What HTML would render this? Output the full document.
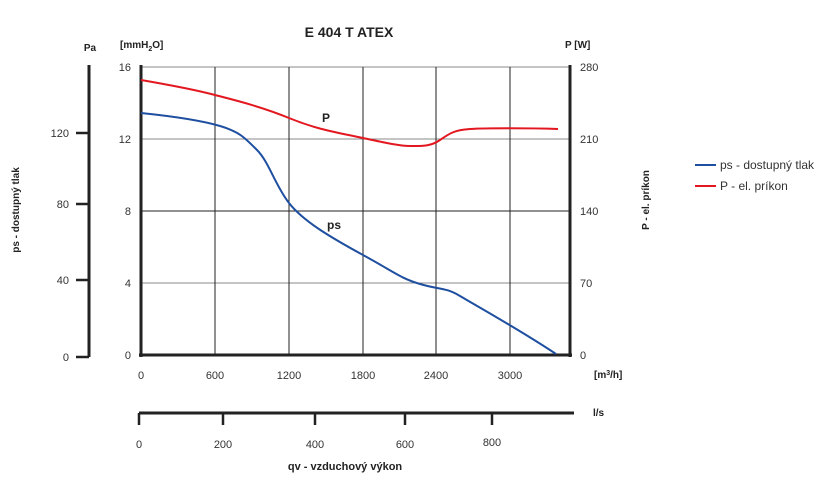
<!DOCTYPE html>
<html><head><style>body{margin:0;background:#fff}svg{display:block;font-family:"Liberation Sans",sans-serif}</style></head><body>
<svg width="825" height="481" viewBox="0 0 825 481">
<text x="349" y="37" text-anchor="middle" font-size="14" font-weight="bold" fill="#222">E 404 T ATEX</text>
<g stroke="#888" stroke-width="1">
<line x1="141" y1="67" x2="570" y2="67"/><line x1="141" y1="139" x2="570" y2="139"/><line x1="141" y1="211" x2="570" y2="211" stroke="#222"/><line x1="141" y1="283" x2="570" y2="283"/>
</g>
<g stroke="#222" stroke-width="1">
<line x1="215" y1="67" x2="215" y2="355"/><line x1="289" y1="67" x2="289" y2="355"/><line x1="363" y1="67" x2="363" y2="355"/><line x1="436" y1="67" x2="436" y2="355"/><line x1="510" y1="67" x2="510" y2="355"/>
</g>
<g stroke="#222" stroke-width="3" fill="none">
<line x1="141" y1="65" x2="141" y2="357"/><line x1="570" y1="65" x2="570" y2="357"/><line x1="139" y1="355" x2="572" y2="355"/>
<line x1="89" y1="65" x2="89" y2="357"/>
<line x1="139" y1="413" x2="574" y2="413"/>
</g>
<g stroke="#222" stroke-width="2.5">
<line x1="76" y1="133" x2="89" y2="133"/><line x1="76" y1="204" x2="89" y2="204"/><line x1="76" y1="280" x2="89" y2="280"/><line x1="76" y1="357" x2="89" y2="357"/>
<line x1="139" y1="413" x2="139" y2="425"/><line x1="223" y1="413" x2="223" y2="425"/><line x1="315" y1="413" x2="315" y2="425"/><line x1="405" y1="413" x2="405" y2="425"/><line x1="492" y1="413" x2="492" y2="425"/>
</g>
<g font-size="11" fill="#333">
<text x="69" y="137" text-anchor="end">120</text><text x="69" y="208" text-anchor="end">80</text><text x="69" y="284" text-anchor="end">40</text><text x="69" y="361" text-anchor="end">0</text>
<text x="131" y="71" text-anchor="end">16</text><text x="131" y="143" text-anchor="end">12</text><text x="131" y="215" text-anchor="end">8</text><text x="131" y="287" text-anchor="end">4</text><text x="131" y="359" text-anchor="end">0</text>
<text x="580" y="71">280</text><text x="580" y="143">210</text><text x="580" y="215">140</text><text x="580" y="287">70</text><text x="580" y="359">0</text>
<text x="141" y="379" text-anchor="middle">0</text><text x="215" y="379" text-anchor="middle">600</text><text x="289" y="379" text-anchor="middle">1200</text><text x="363" y="379" text-anchor="middle">1800</text><text x="436" y="379" text-anchor="middle">2400</text><text x="510" y="379" text-anchor="middle">3000</text>
<text x="139" y="448" text-anchor="middle">0</text><text x="223" y="448" text-anchor="middle">200</text><text x="315" y="448" text-anchor="middle">400</text><text x="405" y="448" text-anchor="middle">600</text><text x="492" y="446" text-anchor="middle">800</text>
</g>
<g font-size="10" font-weight="bold" fill="#222">
<text x="90" y="51" text-anchor="middle">Pa</text>
<text x="120" y="48">[mmH<tspan font-size="7" dy="3">2</tspan><tspan dy="-3">O]</tspan></text>
<text x="565" y="48">P [W]</text>
<text x="594" y="378">[m<tspan font-size="7" dy="-3">3</tspan><tspan dy="3">/h]</tspan></text>
<text x="593" y="416">l/s</text>
<text x="345" y="470" text-anchor="middle" font-size="11">qv - vzduchový výkon</text>
<text transform="translate(19,210) rotate(-90)" text-anchor="middle">ps - dostupný tlak</text>
<text transform="translate(649,200) rotate(-90)" text-anchor="middle">P - el. príkon</text>
<text x="322" y="122" font-size="12">P</text>
<text x="327" y="229" font-size="12">ps</text>
</g>
<path d="M141,80 C170,85 200,91 215,95 S260,106 289,118 S340,133 363,138 S400,146 410,146 S430,147 440,140 S455,130 470,129 S530,128 558,129" fill="none" stroke="#e3171f" stroke-width="2"/>
<path d="M141,113 C170,116 200,120 220,126 S245,138 257,150 S275,185 289,203 S330,237 363,255 S400,278 420,284 S445,287 460,296 S520,330 556,354" fill="none" stroke="#1f4fa0" stroke-width="2"/>
<line x1="695" y1="165" x2="716" y2="165" stroke="#1f4fa0" stroke-width="2"/>
<line x1="695" y1="186" x2="716" y2="186" stroke="#e3171f" stroke-width="2"/>
<text x="720" y="169" font-size="12" fill="#333">ps - dostupný tlak</text>
<text x="720" y="190" font-size="12" fill="#333">P - el. príkon</text>
</svg>
</body></html>
